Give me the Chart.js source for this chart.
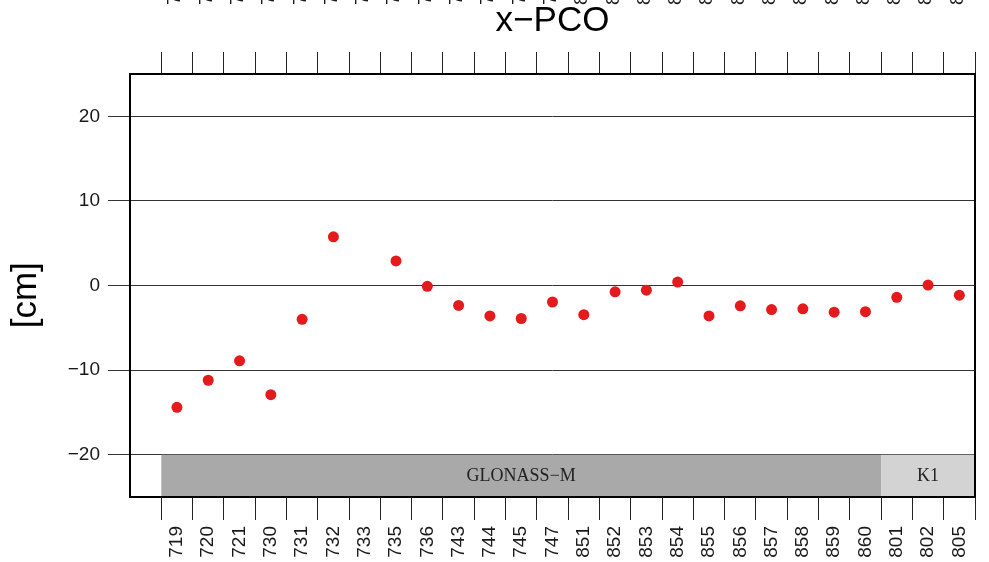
<!DOCTYPE html>
<html>
<head>
<meta charset="utf-8">
<script src="https://cdn.jsdelivr.net/npm/chart.js@4/dist/chart.umd.min.js"></script>
<style>
  html, body { margin: 0; padding: 0; background: #fff; overflow: hidden; }
  #wrap { position: absolute; left: 0; top: -40px; width: 989px; height: 602px; }
</style>
</head>
<body>
<div id="wrap"><canvas id="pco"></canvas></div>
<script>
// satellite numbers (SVN), first slot left blank like the R plot margin
const satellites = ["719", "720", "721", "730", "731", "732", "733", "735", "736", "743", "744", "745", "747",
    "851", "852", "853", "854", "855", "856", "857", "858", "859", "860", "801", "802", "805"];
// x-PCO estimates in cm (733 has no value)
const pcoValues = [-14.4, -11.2, -8.9, -12.9, -4.0, 5.75, null, 2.9, -0.1, -2.35, -3.6, -3.9, -1.95,
    -3.45, -0.75, -0.55, 0.4, -3.6, -2.4, -2.85, -2.75, -3.15, -3.1, -1.4, 0.05, -1.15];
const yTicks = [-20, -10, 0, 10, 20];

// satellite blocks shown as bands at the bottom
const blockNames = ["GLONASS\u2212M", "K1"];
const blockFirst = ["719", "801"];
const blockLast = ["860", "805"];
const blockColors = ["#a9a9a9", "#d3d3d3"];

const labels = [""].concat(satellites);
const points = [null].concat(pcoValues);

const fontFamily = "'Liberation Sans', Arial, Helvetica, sans-serif";

const bandsPlugin = {
    id: "bands",
    beforeDatasetsDraw(chart) {
        const ctx = chart.ctx;
        const x = chart.scales.x;
        const y = chart.scales.y;
        const half = (x.getPixelForValue(1) - x.getPixelForValue(0)) / 2;
        const top = y.getPixelForValue(-20);
        const bottom = y.getPixelForValue(-25);
        ctx.save();
        blockNames.forEach((name, i) => {
            const left = x.getPixelForValue(labels.indexOf(blockFirst[i])) - half;
            const right = x.getPixelForValue(labels.indexOf(blockLast[i])) + half;
            ctx.fillStyle = blockColors[i];
            ctx.fillRect(left, top, right - left, bottom - top);
            ctx.fillStyle = "#222";
            ctx.font = "18px 'Liberation Serif', 'DejaVu Serif', serif";
            ctx.textAlign = "center";
            ctx.textBaseline = "middle";
            ctx.fillText(name, (left + right) / 2, (top + bottom) / 2);
        });
        ctx.restore();
    },
    afterDraw(chart) {
        const ctx = chart.ctx;
        const a = chart.chartArea;
        ctx.save();
        ctx.strokeStyle = "#000";
        ctx.lineWidth = 2;
        ctx.strokeRect(a.left, a.top, a.right - a.left, a.bottom - a.top);
        // main title, sits between the top labels and the top tick marks
        ctx.fillStyle = "#000";
        ctx.font = "35px " + fontFamily;
        ctx.textAlign = "center";
        ctx.textBaseline = "alphabetic";
        ctx.fillText("x\u2212PCO", (a.left + a.right) / 2, a.top - 43);
        ctx.restore();
    }
};

const tickColor = (c) => c.index === 0 ? "rgba(0,0,0,0)" : "#222";
const noSidePadding = (s) => { s.paddingLeft = 0; s.paddingRight = 0; };

new Chart(document.getElementById("pco"), {
    type: "line",
    data: {
        labels: labels,
        datasets: [{
            data: points,
            showLine: false,
            pointRadius: 5.5,
            pointBorderWidth: 0,
            pointBackgroundColor: "#e41a1c",
            pointBorderColor: "#e41a1c"
        }]
    },
    options: {
        responsive: true,
        maintainAspectRatio: false,
        animation: false,
        layout: { padding: { left: 0, right: 14, top: 0, bottom: 0 } },
        plugins: { legend: { display: false }, tooltip: { enabled: false } },
        scales: {
            x: {
                type: "category",
                position: "bottom",
                offset: true,
                afterFit: (s) => { s.height = 65; noSidePadding(s); },
                grid: { offset: true, drawOnChartArea: false, drawTicks: true, tickLength: 23, color: tickColor },
                border: { display: false },
                ticks: {
                    autoSkip: false, minRotation: 90, maxRotation: 90, padding: 6,
                    color: "#1a1a1a", font: { family: fontFamily, size: 19 }
                }
            },
            x2: {
                type: "category",
                position: "top",
                labels: labels,
                offset: true,
                afterFit: (s) => { s.height = 114; noSidePadding(s); },
                grid: { offset: true, drawOnChartArea: false, drawTicks: true, tickLength: 22, color: tickColor },
                border: { display: false },
                ticks: {
                    autoSkip: false, minRotation: 90, maxRotation: 90, padding: 47, labelOffset: 21,
                    color: "#1a1a1a", font: { family: fontFamily, size: 19 }
                }
            },
            y: {
                min: -25,
                max: 25,
                afterFit: (s) => { s.width = 130; },
                afterBuildTicks: (s) => { s.ticks = yTicks.map(v => ({ value: v })); },
                grid: { color: "#333", lineWidth: 1, tickLength: 22 },
                border: { display: false },
                ticks: {
                    padding: 8,
                    color: "#1a1a1a",
                    font: { family: fontFamily, size: 19 },
                    callback: (v) => v < 0 ? "\u2212" + Math.abs(v) : String(v)
                },
                title: {
                    display: true,
                    text: "[cm]  ",
                    color: "#000",
                    padding: { top: 5, bottom: 0 },
                    font: { family: fontFamily, size: 35 }
                }
            }
        }
    },
    plugins: [bandsPlugin]
});
</script>
</body>
</html>
